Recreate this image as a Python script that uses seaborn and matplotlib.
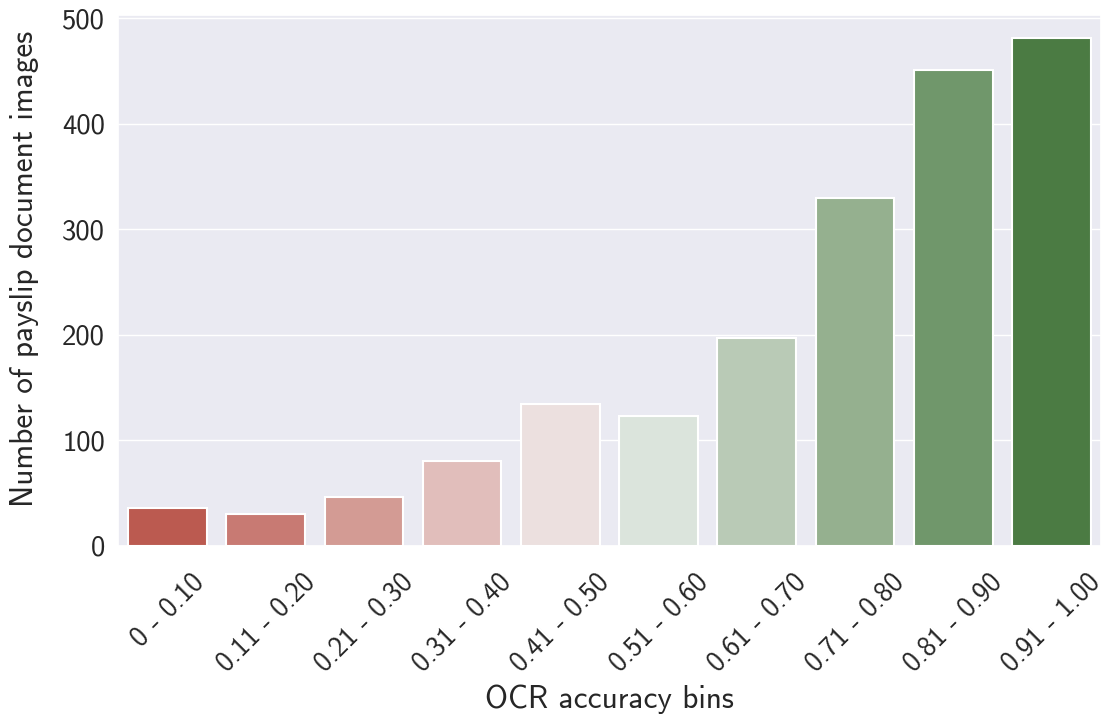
import matplotlib
matplotlib.use("Agg")
import matplotlib.pyplot as plt
import seaborn as sns
import pandas as pd

bins = ["0 - 0.10", "0.11 - 0.20", "0.21 - 0.30", "0.31 - 0.40", "0.41 - 0.50",
        "0.51 - 0.60", "0.61 - 0.70", "0.71 - 0.80", "0.81 - 0.90", "0.91 - 1.00"]
counts = [36, 30, 46, 80, 134, 123, 197, 330, 451, 481]
bar_colors = ["#BB5A50", "#C87A73", "#D39B94", "#E1BEBB", "#ECE0DF",
              "#DBE4DC", "#B9CAB6", "#95B08F", "#70976B", "#4B7B43"]

sns.set_theme(style="darkgrid", font_scale=1.88)
plt.rcParams["font.family"] = ["cmss10", "DejaVu Sans"]
plt.rcParams["axes.unicode_minus"] = False

df = pd.DataFrame({"bin": bins, "count": counts})

fig = plt.figure(figsize=(11.05, 7.18), dpi=100)
ax = fig.add_axes([0.107, 0.240, 0.889, 0.739])
sns.barplot(data=df, x="bin", y="count", hue="bin", palette=bar_colors,
            legend=False, edgecolor="white", linewidth=1.5, saturation=1, ax=ax)
ax.set_xlabel("OCR accuracy bins")
ax.set_ylabel("Number of payslip document images")
ax.set_ylim(0, 503)
ax.set_yticks([0, 100, 200, 300, 400, 500])
ax.tick_params(axis="x", pad=11, labelsize=20)
plt.setp(ax.get_xticklabels(), rotation=45, ha="center")
ax.xaxis.set_label_coords(0.5, -0.262)
ax.yaxis.set_label_coords(-0.081, 0.522)
fig.savefig("out.png", dpi=100)
